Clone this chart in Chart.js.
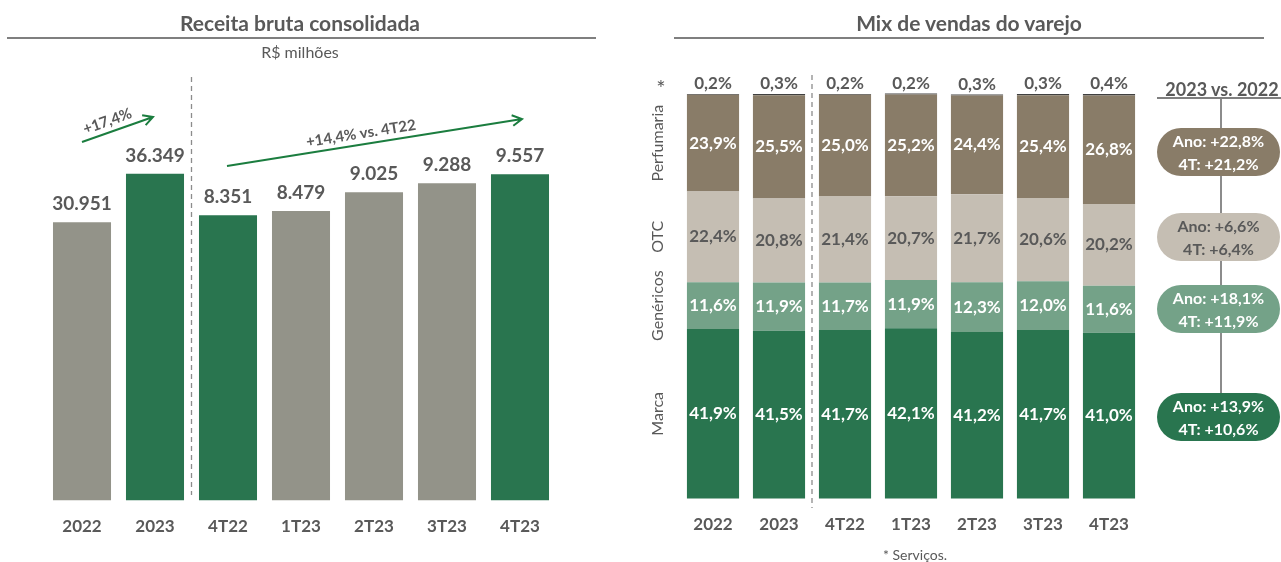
<!DOCTYPE html>
<html>
<head>
<meta charset="utf-8">
<script src="https://cdn.jsdelivr.net/npm/chart.js@4.4.0/dist/chart.umd.min.js"></script>
<style>
  body { margin: 0; background: #fff; font-family: Lato, sans-serif; color: #595959; }
  #page { position: relative; width: 1281px; height: 562px; overflow: hidden; }
  canvas { position: absolute; top: 0; }
  .title { position: absolute; top: 11px; line-height: 24px; font-size: 21px; font-weight: bold; text-align: center; }
  .rule { position: absolute; top: 37px; border-top: 2px solid #7f7f7f; }
  .sub { position: absolute; top: 43px; line-height: 18px; font-size: 16px; text-align: center; }
  .badge { position: absolute; left: 1157px; width: 123px; height: 48px; border-radius: 24px;
           font-size: 16px; font-weight: bold; line-height: 23px; text-align: center; box-sizing: border-box; padding-top: 1px; color: #fff; }
</style>
</head>
<body>
<div id="page">
  <canvas id="revenue-chart" width="620" height="562" style="left:0"></canvas>
  <canvas id="mix-chart" width="641" height="562" style="left:640px"></canvas>

  <div class="title" style="left:0;width:600px">Receita bruta consolidada</div>
  <div class="rule" style="left:7px;width:589px"></div>
  <div class="sub" style="left:0;width:600px">R$ milhões</div>

  <div class="title" style="left:674px;width:590px">Mix de vendas do varejo</div>
  <div class="rule" style="left:674px;width:590px"></div>

  <div class="title" style="left:1160px;width:124px;top:78px;font-size:18px;line-height:22px">2023 vs. 2022</div>
  <div class="rule" style="left:1157px;width:124px;top:97px"></div>
  <div style="position:absolute;left:1220px;top:99px;width:2px;height:300px;background:#8c8c8c"></div>
  <div id="badges"></div>

  <div class="sub" style="left:850px;width:130px;top:546px;font-size:14px">* Serviços.</div>
</div>

<script>
// RECEITA BRUTA (R$ milhões)
const periods = ["2022", "2023", "4T22", "1T23", "2T23", "3T23", "4T23"];
const annualRevenue = [30951, 36349, null, null, null, null, null];
const quarterRevenue = [null, null, 8351, 8479, 9025, 9288, 9557];
const highlighted = ["2023", "4T22", "4T23"];
const growthLabels = ["+17,4%", "+14,4% vs. 4T22"];

// MIX DE VENDAS (%)
const mixSegments = ["Marca", "Genéricos", "OTC", "Perfumaria", "*"];
const marca = [41.9, 41.5, 41.7, 42.1, 41.2, 41.7, 41.0];
const genericos = [11.6, 11.9, 11.7, 11.9, 12.3, 12.0, 11.6];
const otc = [22.4, 20.8, 21.4, 20.7, 21.7, 20.6, 20.2];
const perfumaria = [23.9, 25.5, 25.0, 25.2, 24.4, 25.4, 26.8];
const servicos = [0.2, 0.3, 0.2, 0.2, 0.3, 0.3, 0.4];
const growthAno = ["+13,9%", "+18,1%", "+6,6%", "+22,8%"];
const growth4T = ["+10,6%", "+11,9%", "+6,4%", "+21,2%"];

const GREEN = "#29754f", GRAY = "#939389", TEXT = "#595959", ARROW = "#1b7d3f";
const mixColors = [GREEN, "#74a288", "#c5beb3", "#897c68", "#404040"];
const mixText = ["#fff", "#fff", TEXT, "#fff"];

Chart.defaults.font.family = "Lato";
Chart.defaults.color = TEXT;

function milhar(v) {
    return String(v).replace(/\B(?=(\d{3})+(?!\d))/g, ".");
}
function pct(v) {
    return v.toFixed(1).replace(".", ",") + "%";
}

function drawArrow(ctx, x1, y1, x2, y2, label, t) {
    const ang = Math.atan2(y2 - y1, x2 - x1);
    ctx.strokeStyle = ARROW;
    ctx.lineWidth = 2;
    ctx.beginPath();
    ctx.moveTo(x1, y1);
    ctx.lineTo(x2, y2);
    ctx.moveTo(x2 - 11 * Math.cos(ang - 0.5), y2 - 11 * Math.sin(ang - 0.5));
    ctx.lineTo(x2, y2);
    ctx.lineTo(x2 - 11 * Math.cos(ang + 0.5), y2 - 11 * Math.sin(ang + 0.5));
    ctx.stroke();
    // text along the arrow, a bit above it
    const mx = x1 + (x2 - x1) * t + 11 * Math.sin(ang);
    const my = y1 + (y2 - y1) * t - 11 * Math.cos(ang);
    ctx.save();
    ctx.translate(mx, my);
    ctx.rotate(ang);
    ctx.font = "bold 15px Lato";
    ctx.fillStyle = TEXT;
    ctx.textAlign = "center";
    ctx.textBaseline = "middle";
    ctx.fillText(label, 0, 0);
    ctx.restore();
}

function dashedDivider(chart, y1, y2) {
    const x = (chart.scales.x.getPixelForValue(1) + chart.scales.x.getPixelForValue(2)) / 2;
    const ctx = chart.ctx;
    ctx.save();
    ctx.strokeStyle = "#8c8c8c";
    ctx.lineWidth = 1.3;
    ctx.setLineDash([5, 4]);
    ctx.beginPath();
    ctx.moveTo(x, y1);
    ctx.lineTo(x, y2);
    ctx.stroke();
    ctx.restore();
}

const revenueLabels = {
    id: "revenueLabels",
    afterDatasetsDraw(chart) {
        const ctx = chart.ctx;
        ctx.save();
        ctx.font = "bold 19px Lato";
        ctx.fillStyle = TEXT;
        ctx.textAlign = "center";
        ctx.textBaseline = "middle";
        chart.data.datasets.forEach((ds, i) => {
            chart.getDatasetMeta(i).data.forEach((bar, j) => {
                if (ds.data[j] == null) return;
                ctx.fillText(milhar(ds.data[j]), bar.x, bar.y - 18);
            });
        });
        const x = chart.scales.x, top = chart.chartArea.top;
        drawArrow(ctx, x.getPixelForValue(0), top + 82, x.getPixelForValue(1) - 2, top + 57, growthLabels[0], 0.41);
        drawArrow(ctx, x.getPixelForValue(2) - 1, top + 106, x.getPixelForValue(6) + 2, top + 59, growthLabels[1], 0.46);
        ctx.restore();
        dashedDivider(chart, 77, 495);
    }
};

const barColors = periods.map(p => highlighted.includes(p) ? GREEN : GRAY);

new Chart("revenue-chart", {
    type: "bar",
    data: {
        labels: periods,
        datasets: [
            { label: "Anual", data: annualRevenue, yAxisID: "yA", backgroundColor: barColors, grouped: false },
            { label: "Trimestral", data: quarterRevenue, yAxisID: "yQ", backgroundColor: barColors, grouped: false }
        ]
    },
    options: {
        responsive: false,
        animation: false,
        barPercentage: 0.795,
        categoryPercentage: 1,
        layout: { padding: { left: 45.5, right: 63.5, top: 60, bottom: 9 } },
        plugins: { legend: { display: false }, tooltip: { enabled: false } },
        scales: {
            x: {
                grid: { display: false, drawTicks: false },
                border: { display: false },
                ticks: { font: { size: 17, weight: "bold" }, color: TEXT, padding: 16 }
            },
            yA: { display: false, min: 0, max: 49000 },
            yQ: { display: false, min: 0, max: 12900 }
        }
    },
    plugins: [revenueLabels]
});

const mixLabels = {
    id: "mixLabels",
    afterDatasetsDraw(chart) {
        const ctx = chart.ctx;
        ctx.save();
        ctx.textAlign = "center";
        ctx.textBaseline = "middle";
        chart.data.datasets.forEach((ds, i) => {
            const bars = chart.getDatasetMeta(i).data;
            bars.forEach((bar, j) => {
                ctx.font = "bold 17px Lato";
                if (i < 4) {
                    ctx.fillStyle = mixText[i];
                    ctx.fillText(pct(ds.data[j]), bar.x, (bar.y + bar.base) / 2);
                } else {
                    ctx.fillStyle = TEXT;
                    ctx.fillText(pct(ds.data[j]), bar.x, bar.y - 10);
                }
            });
            // segment names on the left, rotated
            const first = bars[0];
            const lx = chart.chartArea.left - 22;
            ctx.fillStyle = TEXT;
            if (i < 4) {
                ctx.font = "16px Lato";
                ctx.save();
                ctx.translate(lx, (first.y + first.base) / 2);
                ctx.rotate(-Math.PI / 2);
                ctx.fillText(ds.label, 0, 0);
                ctx.restore();
            } else {
                ctx.font = "22px Lato";
                ctx.fillText(ds.label, lx + 3, first.y - 5);
            }
        });
        ctx.restore();
        dashedDivider(chart, 75, 508);
    }
};

const mixData = [marca, genericos, otc, perfumaria, servicos];

new Chart("mix-chart", {
    type: "bar",
    data: {
        labels: periods,
        datasets: mixSegments.map((name, i) => ({
            label: name,
            data: mixData[i],
            backgroundColor: mixColors[i],
            clip: false
        }))
    },
    options: {
        responsive: false,
        animation: false,
        barPercentage: 0.79,
        categoryPercentage: 1,
        layout: { padding: { left: 40, right: 139, top: 94, bottom: 11 } },
        plugins: { legend: { display: false }, tooltip: { enabled: false } },
        scales: {
            x: {
                stacked: true,
                grid: { display: false, drawTicks: false },
                border: { display: false },
                ticks: { font: { size: 17, weight: "bold" }, color: TEXT, padding: 16 }
            },
            y: { stacked: true, display: false, min: 0, max: 100 }
        }
    },
    plugins: [mixLabels]
});

// 2023 vs. 2022 badges, one per segment
const badgeTops = [393, 285, 213, 128];
const badgeBox = document.getElementById("badges");
growthAno.forEach((g, i) => {
    const b = document.createElement("div");
    b.className = "badge";
    b.style.top = badgeTops[i] + "px";
    b.style.background = mixColors[i];
    b.style.color = mixText[i];
    b.innerHTML = "Ano: " + g + "<br>4T: " + growth4T[i];
    badgeBox.appendChild(b);
});
</script>
</body>
</html>
